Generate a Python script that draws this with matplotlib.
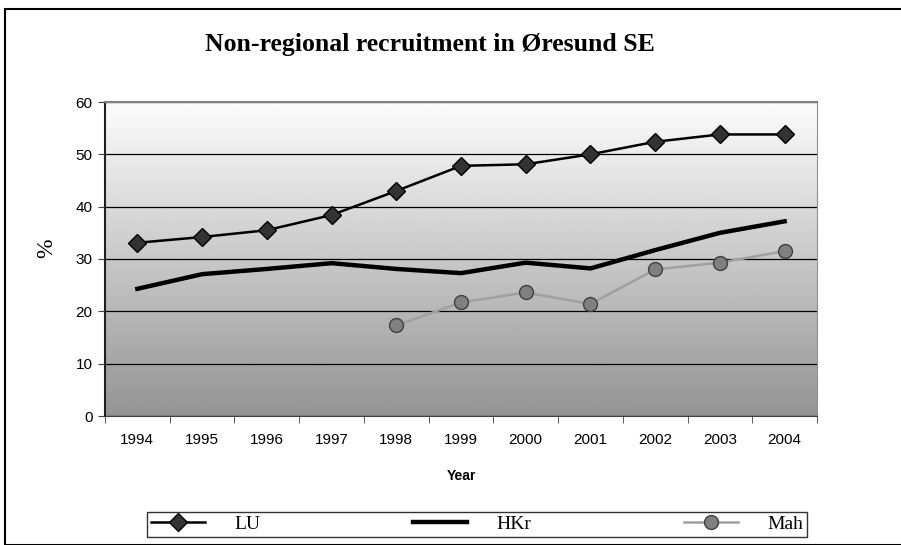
import numpy as np
import matplotlib.pyplot as plt
from matplotlib.patches import Rectangle

years = ['1994', '1995', '1996', '1997', '1998', '1999', '2000', '2001', '2002', '2003', '2004']
lu = [33.1, 34.2, 35.5, 38.4, 43.0, 47.8, 48.1, 50.0, 52.4, 53.8, 53.8]
hkr = [24.3, 27.1, 28.1, 29.2, 28.1, 27.3, 29.3, 28.2, 31.7, 35.0, 37.2]
mah = [np.nan, np.nan, np.nan, np.nan, 17.3, 21.7, 23.6, 21.4, 28.0, 29.3, 31.5]

x = np.arange(len(years))

fig = plt.figure(figsize=(9.01, 5.45), dpi=100)
ax = fig.add_axes([105/901, 1 - 416/545, 712/901, 314/545])

# gradient background of plot area
grad = np.linspace(0.99, 0.58, 256).reshape(-1, 1)
ax.imshow(grad, cmap='gray', vmin=0, vmax=1, aspect='auto',
          extent=[0, 1, 0, 1], transform=ax.transAxes, zorder=0)

ax.set_xlim(-0.5, len(years) - 0.5)
ax.set_ylim(0, 60)
ax.set_yticks(range(0, 61, 10))
ax.yaxis.grid(True, color='black', linewidth=0.9)
ax.set_axisbelow(True)
for s in ax.get_ygridlines():
    s.set_zorder(1)

ax.plot(x, lu, color='black', linewidth=1.8, marker='D', markersize=9,
        markerfacecolor='#333333', markeredgecolor='black', zorder=3, label='LU')
ax.plot(x, hkr, color='black', linewidth=3.2, zorder=3, label='HKr')
ax.plot(x, mah, color='#a0a0a0', linewidth=1.8, marker='o', markersize=10,
        markerfacecolor='#808080', markeredgecolor='#404040', zorder=3, label='Mah')

ax.set_xticks(x)
ax.set_xticklabels(years, fontfamily='Liberation Sans', fontsize=11)
ax.set_xticks(np.arange(-0.5, len(years)), minor=True)
ax.tick_params(axis='x', which='major', length=0, pad=12)
ax.tick_params(axis='x', which='minor', length=5, direction='out', color='#404040')
ax.tick_params(axis='y', length=5, direction='out', color='#404040', labelsize=11, pad=4)
for lab in ax.get_yticklabels():
    lab.set_fontfamily('Liberation Sans')

ax.spines['top'].set_color('#808080')
ax.spines['top'].set_linewidth(1.5)
ax.spines['right'].set_color('#909090')
ax.spines['left'].set_color('#202020')
ax.spines['left'].set_linewidth(1.5)
ax.spines['bottom'].set_color('#404040')

fig.text(430/901, 1 - 45/545, 'Non-regional recruitment in Øresund SE', ha='center', va='center',
         fontfamily='Liberation Serif', fontweight='bold', fontsize=18.5)
fig.text(47/901, 1 - 248/545, '%', rotation=90, ha='center', va='center',
         fontfamily='Liberation Serif', fontsize=17)
fig.text(461/901, 1 - 476/545, 'Year', ha='center', va='center',
         fontfamily='Liberation Sans', fontweight='bold', fontsize=10)

leg = fig.legend(loc='lower left', bbox_to_anchor=(147/901, 1 - 537/545, 660/901, 29/545),
                 ncol=3, mode='expand', frameon=True, fancybox=False, borderaxespad=0,
                 prop={'family': 'Liberation Serif', 'size': 14}, handlelength=2.8,
                 borderpad=0.2, handletextpad=1.5)
leg.get_frame().set_edgecolor('black')
leg.get_frame().set_linewidth(1.0)

# outer chart border
fig.patches.append(Rectangle((5/901, 0), 1.2, 1 - 9/545, transform=fig.transFigure,
                             fill=False, edgecolor='black', linewidth=1.5))

fig.savefig('out.png', dpi=100)
